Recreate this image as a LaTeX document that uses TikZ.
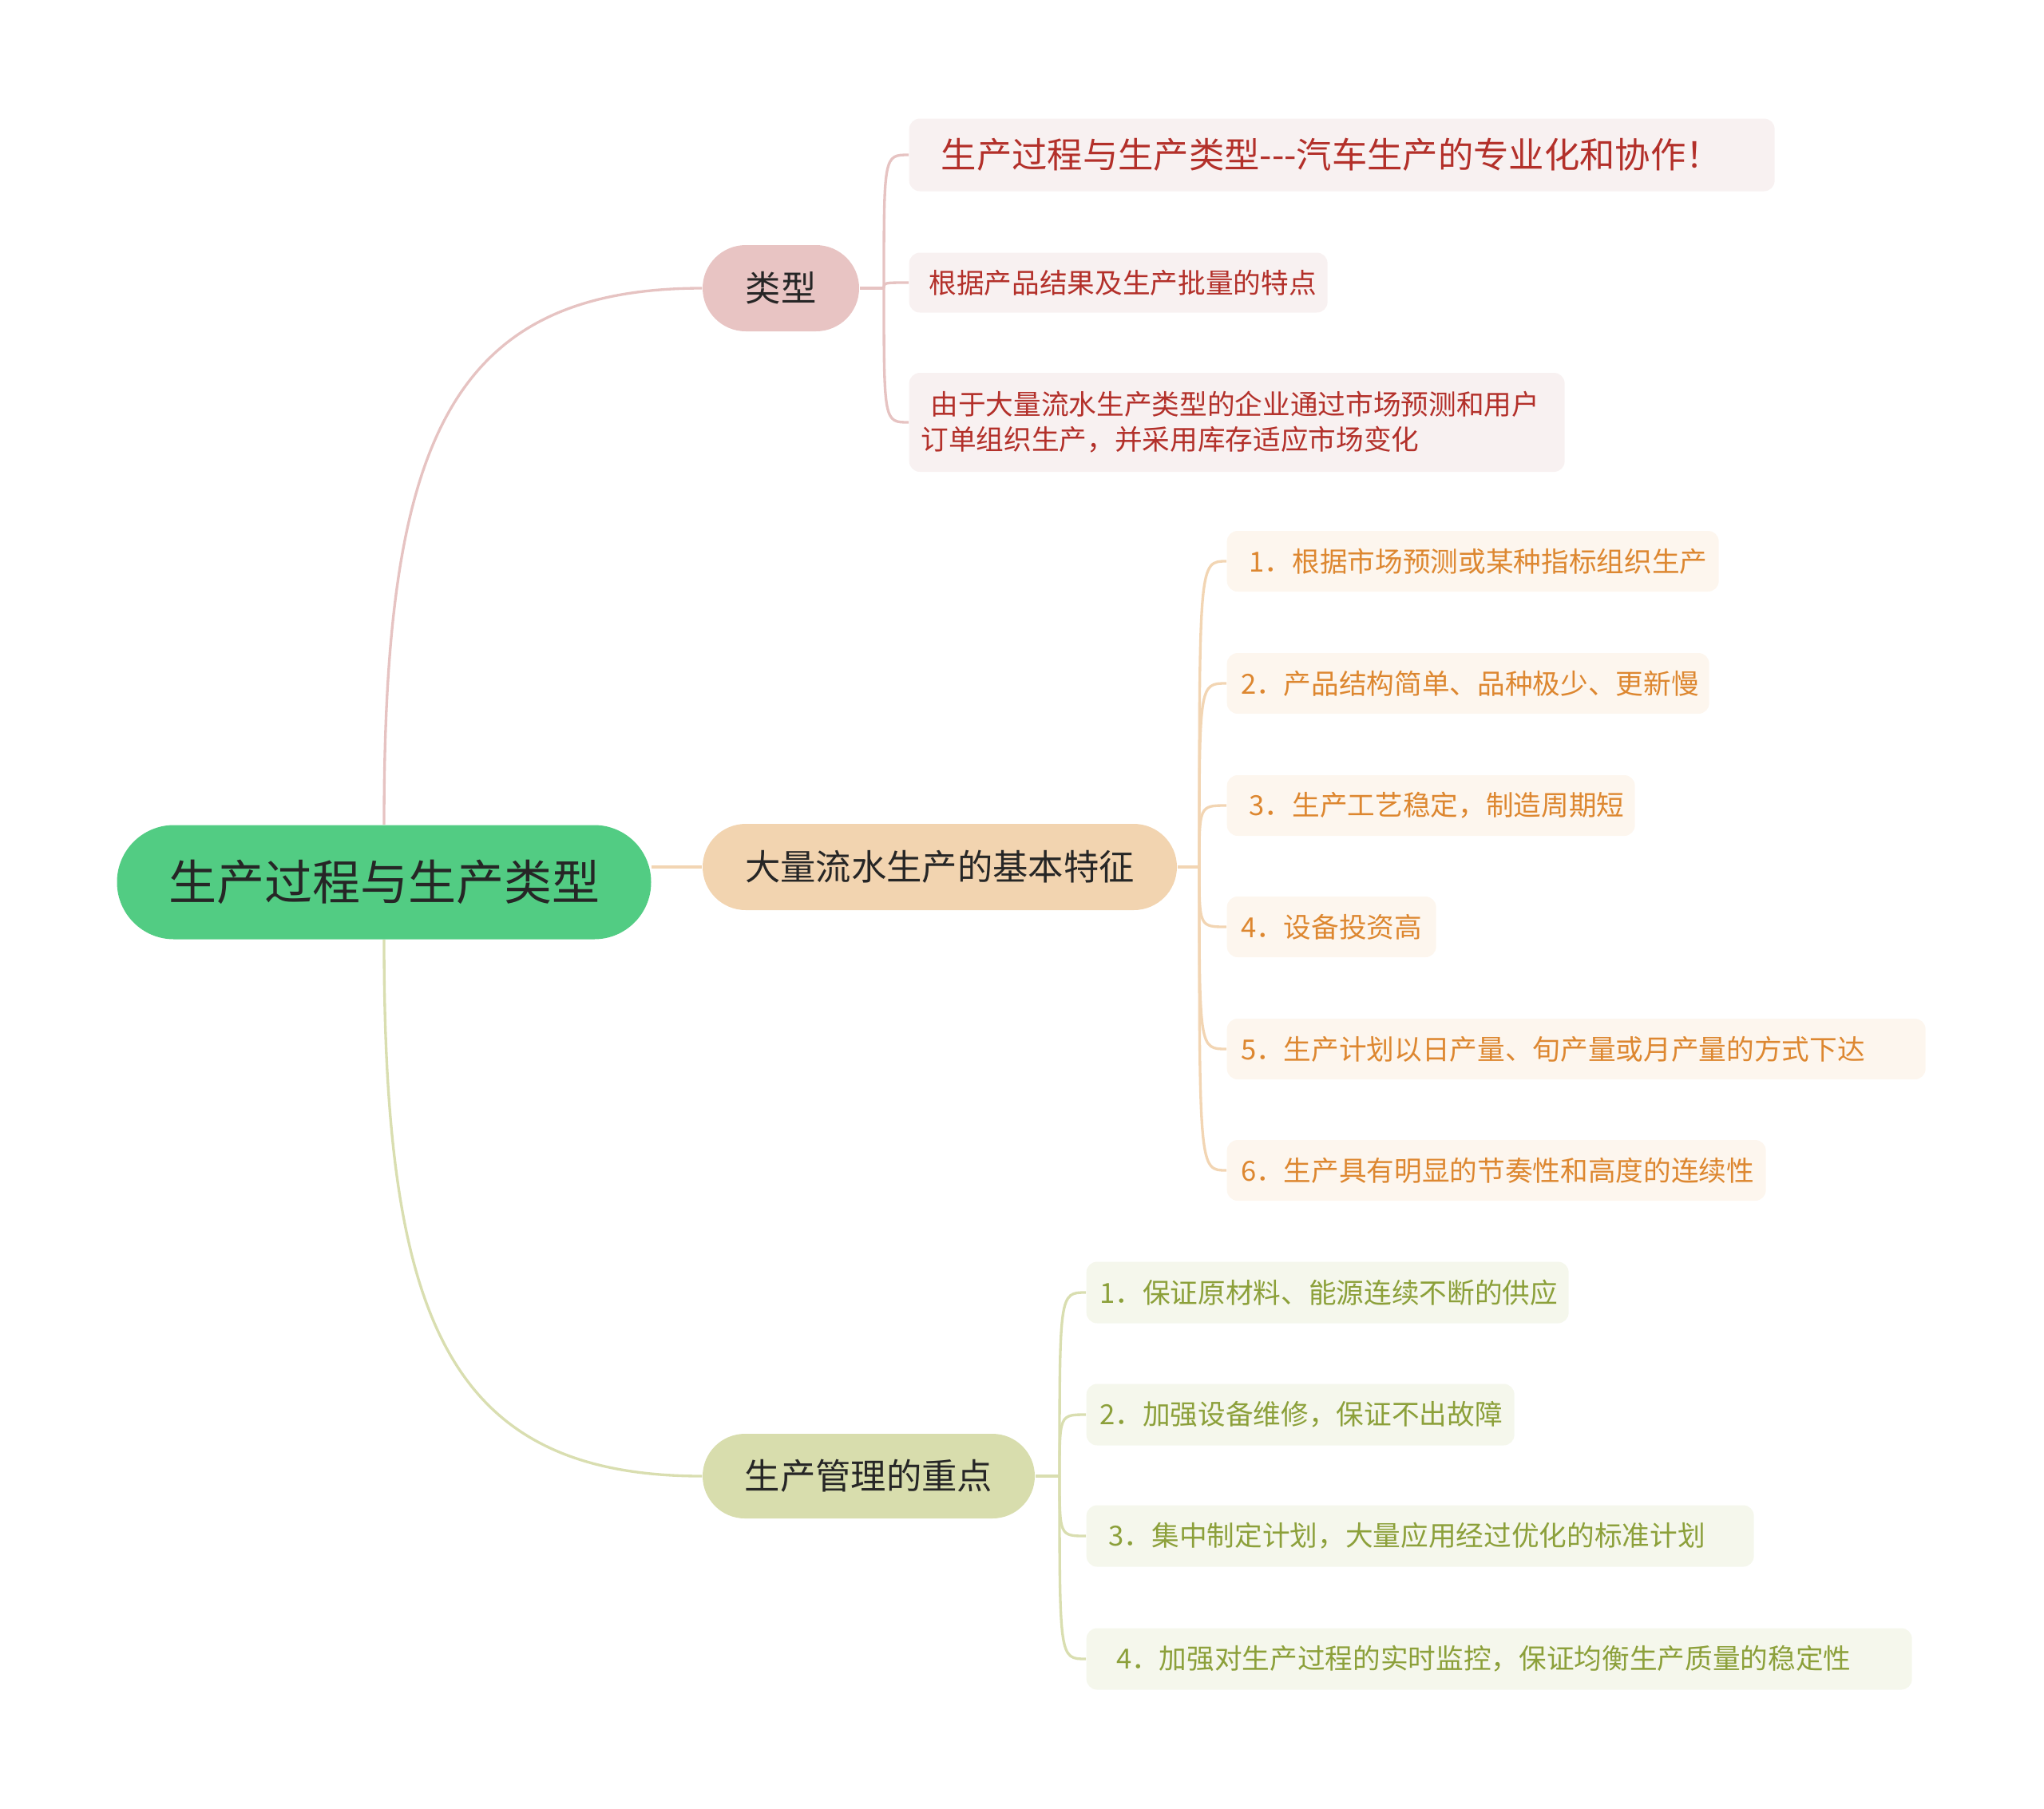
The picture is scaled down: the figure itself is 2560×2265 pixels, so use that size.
\documentclass[tikz,border=0pt]{standalone}
\usepackage{fontspec}
\newfontfamily\cjk{Noto Sans CJK SC}
\usetikzlibrary{backgrounds}
\definecolor{rootgreen}{HTML}{52CC83}
\definecolor{typfill}{HTML}{E8C4C3}
\definecolor{massfill}{HTML}{F2D4B0}
\definecolor{mgmtfill}{HTML}{D8DDAD}
\definecolor{typline}{HTML}{E6C3C2}
\definecolor{massline}{HTML}{F2D5B3}
\definecolor{mgmtline}{HTML}{D9DEB0}
\definecolor{pinkbg}{HTML}{F8F1F1}
\definecolor{pinktext}{HTML}{B3302A}
\definecolor{orangebg}{HTML}{FDF6EE}
\definecolor{orangetext}{HTML}{DD8730}
\definecolor{olivebg}{HTML}{F5F7EC}
\definecolor{olivetext}{HTML}{8CA03A}
\definecolor{topictext}{HTML}{262626}
\newcommand\rootfont{\cjk\fontsize{18}{18}\selectfont}
\newcommand\topicfont{\cjk\fontsize{13.3}{13.3}\selectfont}
\newcommand\leaffont{\cjk\fontsize{10.4}{13.2}\selectfont}

\begin{document}
\begin{tikzpicture}[x=0.3pt,y=-0.3pt,line cap=round,line join=round,
  topic/.style={inner sep=0pt,text=topictext,font=\topicfont},
  leaf/.style={anchor=west,inner xsep=0pt,inner ysep=0pt,align=left,rounded corners=4pt,font=\leaffont},
  typleaf/.style={leaf,fill=pinkbg,text=pinktext},
  massleaf/.style={leaf,fill=orangebg,text=orangetext,minimum height=22.8pt},
  mgmtleaf/.style={leaf,fill=olivebg,text=olivetext,minimum height=23.1pt},
  typlink/.style={draw=typline,line width=1pt},
  masslink/.style={draw=massline,line width=1pt},
  mgmtlink/.style={draw=mgmtline,line width=1pt}]
  \useasboundingbox (0,0) rectangle (2560,2265);
  \node[topic,fill=rootgreen,minimum width=200.7pt,minimum height=42.9pt,rounded corners=21.4pt,font=\rootfont] (root) at (481,1105) {生产过程与生产类型};
  \node[topic,fill=typfill,minimum width=58.8pt,minimum height=32.4pt,rounded corners=16.2pt] (typ) at (978,361) {类型};
  \node[topic,fill=massfill,minimum width=178.2pt,minimum height=32.4pt,rounded corners=16.2pt] (mass) at (1177,1086) {大量流水生产的基本特征};
  \node[topic,fill=mgmtfill,minimum width=124.8pt,minimum height=31.8pt,rounded corners=15.9pt] (mgmt) at (1088,1849) {生产管理的重点};

  \node[typleaf,text width=325.2pt,minimum height=27.3pt,font=\topicfont] (typ1) at (1138,194) {\hspace*{12pt}生产过程与生产类型---汽车生产的专业化和协作！};
  \node[typleaf,text width=157.2pt,minimum height=22.5pt] (typ2) at (1138,354) {\hspace*{7.4pt}根据产品结果及生产批量的特点};
  \node[typleaf,text width=246.3pt,minimum height=37.2pt] (typ3) at (1138,529) {\hspace*{8pt}由于大量流水生产类型的企业通过市场预测和用户\\\hspace*{4.4pt}订单组织生产，并采用库存适应市场变化};

  \node[massleaf,text width=184.8pt] (mass1) at (1536,703) {\hspace*{8.4pt}1．根据市场预测或某种指标组织生产};
  \node[massleaf,text width=181.2pt] (mass2) at (1536,856) {\hspace*{5.2pt}2．产品结构简单、品种极少、更新慢};
  \node[massleaf,text width=153.3pt] (mass3) at (1536,1009) {\hspace*{8.4pt}3．生产工艺稳定，制造周期短};
  \node[massleaf,text width=78.6pt] (mass4) at (1536,1161) {\hspace*{5.2pt}4．设备投资高};
  \node[massleaf,text width=262.5pt] (mass5) at (1536,1314) {\hspace*{5.2pt}5．生产计划以日产量、旬产量或月产量的方式下达};
  \node[massleaf,text width=202.5pt] (mass6) at (1536,1466) {\hspace*{5.2pt}6．生产具有明显的节奏性和高度的连续性};

  \node[mgmtleaf,text width=181.2pt] (mgmt1) at (1360,1619) {\hspace*{5pt}1．保证原材料、能源连续不断的供应};
  \node[mgmtleaf,text width=160.8pt] (mgmt2) at (1360,1772) {\hspace*{5pt}2．加强设备维修，保证不出故障};
  \node[mgmtleaf,text width=250.8pt] (mgmt3) at (1360,1924) {\hspace*{8.4pt}3．集中制定计划，大量应用经过优化的标准计划};
  \node[mgmtleaf,text width=310.2pt] (mgmt4) at (1360,2078) {\hspace*{11.2pt}4．加强对生产过程的实时监控，保证均衡生产质量的稳定性};

  \coordinate (jt) at (1107,361);
  \coordinate (jm) at (1502,1086);
  \coordinate (jg) at (1327,1849);
  \begin{scope}[on background layer]
    \draw[typlink] (root.north) .. controls +(0,-473) and +(-320,0) .. (typ.west);
    \draw[masslink] (root.east |- mass.west) -- (mass.west);
    \draw[mgmtlink] (root.south) .. controls +(0,473) and +(-320,0) .. (mgmt.west);
    \draw[typlink] (typ.east) -- (jt);
    \foreach \i in {1,2,3}
      \draw[typlink] (jt) .. controls (jt |- typ\i.west) .. (typ\i.west);
    \draw[masslink] (mass.east) -- (jm);
    \foreach \i in {1,...,6}
      \draw[masslink] (jm) .. controls (jm |- mass\i.west) .. (mass\i.west);
    \draw[mgmtlink] (mgmt.east) -- (jg);
    \foreach \i in {1,...,4}
      \draw[mgmtlink] (jg) .. controls (jg |- mgmt\i.west) .. (mgmt\i.west);
  \end{scope}
\end{tikzpicture}
\end{document}
